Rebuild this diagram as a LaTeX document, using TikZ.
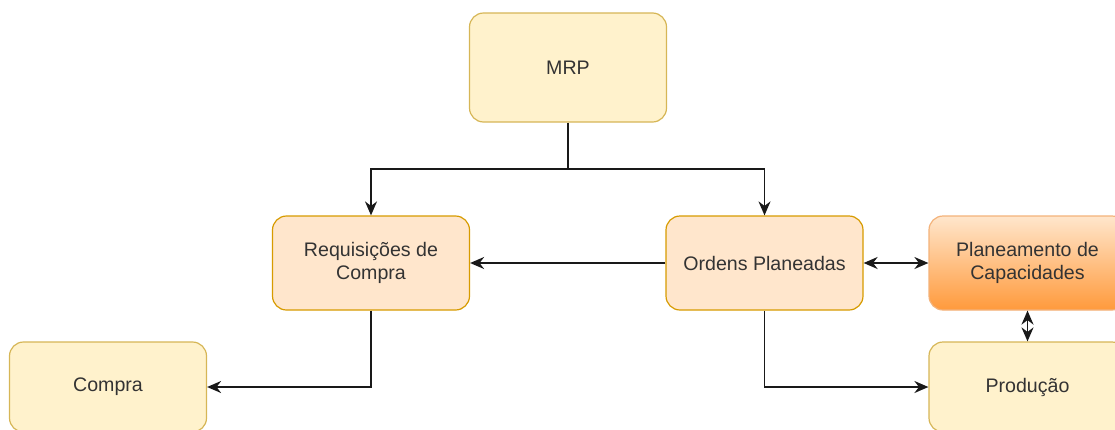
\documentclass[tikz,border=0pt]{standalone}
\usepackage{fontspec}
\setmainfont{Liberation Sans}
\usetikzlibrary{arrows.meta}
\definecolor{yellowfill}{HTML}{FFF2CC}
\definecolor{yellowline}{HTML}{D6B656}
\definecolor{orangefill}{HTML}{FFE6CC}
\definecolor{orangeline}{HTML}{D79B00}
\definecolor{orangedark}{HTML}{FF9A3C}
\definecolor{orangeedge}{HTML}{F3B27A}
\definecolor{textgray}{HTML}{333333}

\begin{document}
\begin{tikzpicture}[x=1pt,y=-1pt,
    box/.style={draw, rounded corners=14pt, line width=1.2pt, minimum width=197pt, minimum height=94pt,
        inner sep=0pt, align=center, text=textgray, font=\fontsize{19.6}{23.5}\selectfont},
    yellowbox/.style={box, fill=yellowfill, draw=yellowline},
    orangebox/.style={box, fill=orangefill, draw=orangeline},
    link/.style={line width=1.8pt, draw=black!90, -{Stealth[length=14pt,width=12pt]}},
    both/.style={link, {Stealth[length=14pt,width=12pt]}-{Stealth[length=14pt,width=12pt]}}]
            \useasboundingbox (0,0) rectangle (1115,429);
            \clip (0,0) rectangle (1115,429);
            \node[yellowbox, minimum height=109pt] (mrp) at (568,67.5) {MRP};
            \node[orangebox] (req) at (371,263) {Requisições de\\Compra};
            \node[orangebox] (ordens) at (764.5,263) {Ordens Planeadas};
            \node[box, top color=orangefill, bottom color=orangedark, draw=orangeedge] (plan) at (1027.5,263) {Planeamento de\\Capacidades};
            \node[yellowbox, minimum height=90pt] (compra) at (108,387) {Compra};
            \node[yellowbox, minimum height=90pt] (prod) at (1027.5,387) {Produção};
            \coordinate (split) at (568,169);
            \draw[link] (mrp) -- (split) -| (req);
            \draw[link] (split) -| (ordens);
            \draw[link] (ordens) -- (req);
            \draw[both] (ordens) -- (plan);
            \draw[both] (plan) -- (prod);
            \draw[link] (req) |- (compra);
            \draw[link] (ordens) |- (prod);
        \end{tikzpicture}
\end{document}
